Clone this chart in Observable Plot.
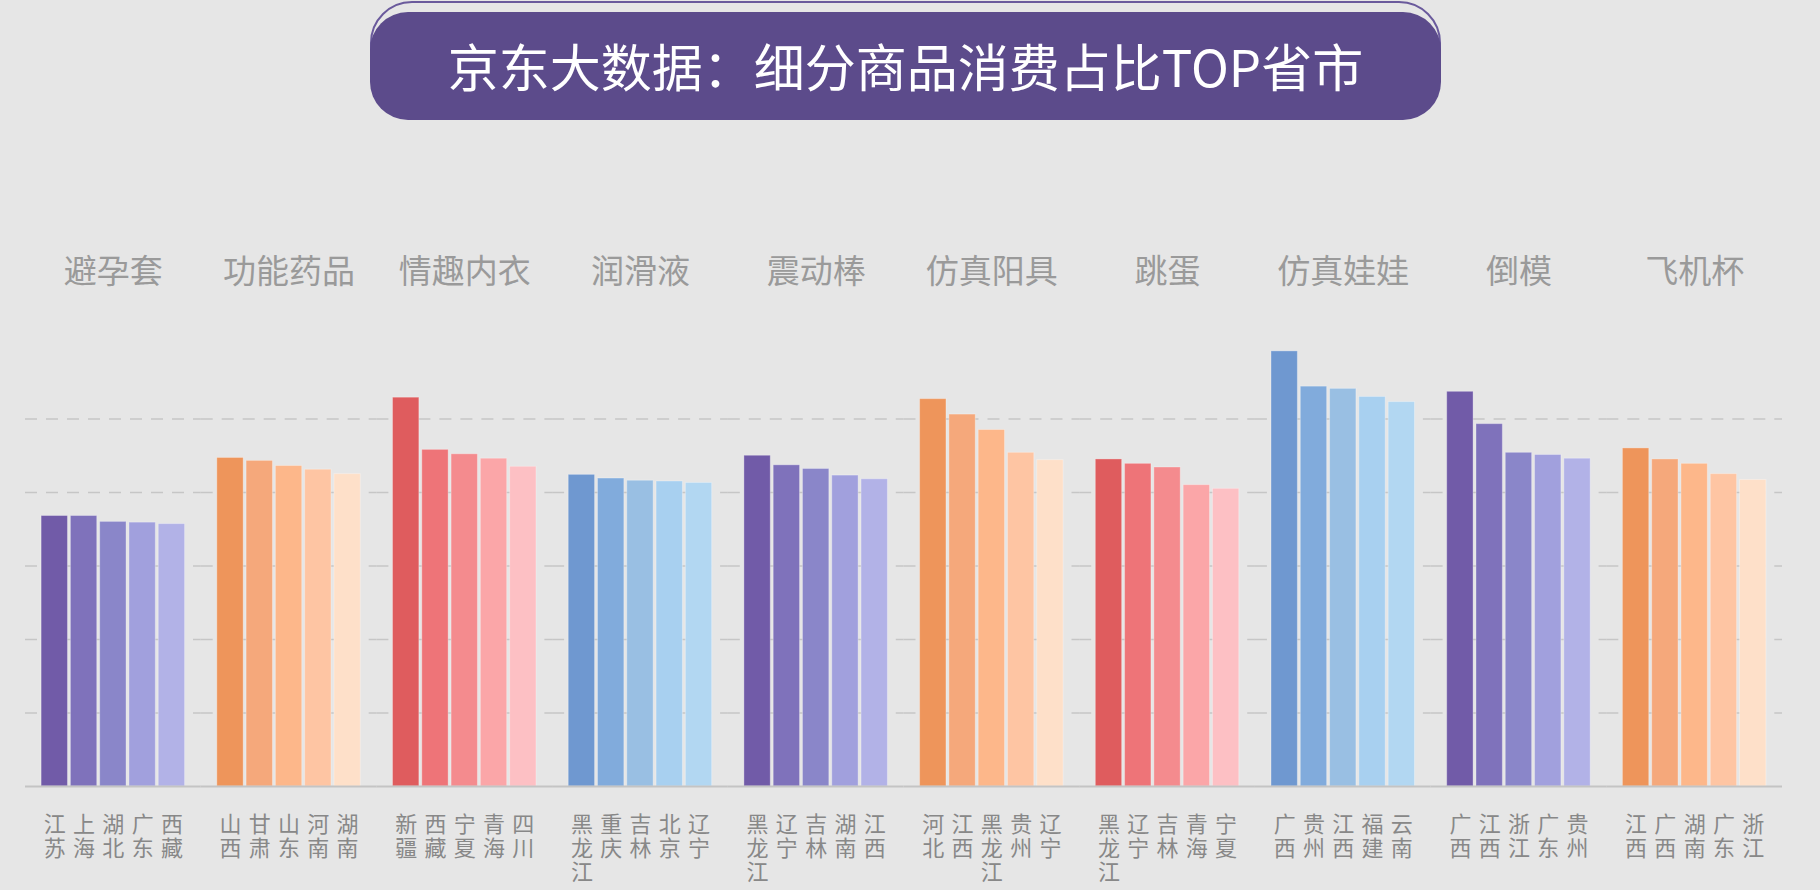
<!DOCTYPE html>
<html>
<head>
<meta charset="utf-8">
<script src="https://cdn.jsdelivr.net/npm/d3@7"></script>
<script src="https://cdn.jsdelivr.net/npm/@observablehq/plot@0.6"></script>
<style>
  html, body { margin: 0; padding: 0; background: #e6e6e6; }
  body { width: 1820px; height: 890px; position: relative; overflow: hidden; font-family: "Noto Sans CJK SC", "Noto Sans", sans-serif; }
  #outline { position: absolute; left: 370px; top: 1px; width: 1067px; height: 100px; border: 2px solid #6a5a9c; border-radius: 42px; }
  #title { position: absolute; left: 370px; top: 12px; width: 1071px; height: 108px; background: #5c4b8b; border-radius: 38px; color: #fff; font-size: 51px; text-align: center; line-height: 106px; font-weight: 400; }
  #chart { position: absolute; left: 0; top: 200px; }
</style>
</head>
<body>
<div id="outline"></div>
<div id="title">京东大数据：细分商品消费占比TOP省市</div>
<div id="chart"></div>
<script>
const categories = ["避孕套", "功能药品", "情趣内衣", "润滑液", "震动棒", "仿真阳具", "跳蛋", "仿真娃娃", "倒模", "飞机杯"];
const provinces = [
  ["江苏", "上海", "湖北", "广东", "西藏"],
  ["山西", "甘肃", "山东", "河南", "湖南"],
  ["新疆", "西藏", "宁夏", "青海", "四川"],
  ["黑龙江", "重庆", "吉林", "北京", "辽宁"],
  ["黑龙江", "辽宁", "吉林", "湖南", "江西"],
  ["河北", "江西", "黑龙江", "贵州", "辽宁"],
  ["黑龙江", "辽宁", "吉林", "青海", "宁夏"],
  ["广西", "贵州", "江西", "福建", "云南"],
  ["广西", "江西", "浙江", "广东", "贵州"],
  ["江西", "广西", "湖南", "广东", "浙江"]
];
const values = [
  [3.68, 3.68, 3.60, 3.59, 3.57],
  [4.47, 4.43, 4.36, 4.31, 4.25],
  [5.29, 4.58, 4.52, 4.46, 4.35],
  [4.24, 4.19, 4.16, 4.15, 4.13],
  [4.50, 4.37, 4.32, 4.23, 4.18],
  [5.27, 5.06, 4.85, 4.54, 4.44],
  [4.45, 4.39, 4.34, 4.10, 4.05],
  [5.92, 5.44, 5.41, 5.30, 5.23],
  [5.37, 4.93, 4.54, 4.51, 4.46],
  [4.60, 4.45, 4.39, 4.25, 4.17]
];
const gridTicks = [1, 2, 3, 4, 5];

const palettes = {
  purple: ["#715ba8", "#7f72bb", "#8a86c9", "#a1a0dd", "#b2b2e7"],
  orange: ["#ee955b", "#f5a87b", "#fdb78a", "#fec5a3", "#fee0c9"],
  red:    ["#df5c5e", "#ee7478", "#f48b8e", "#fba6a8", "#fdc0c4"],
  blue:   ["#6f98d0", "#81abdc", "#99bfe3", "#a8d0f0", "#b2d7f2"]
};
const paletteCycle = ["purple", "orange", "red", "blue"];

const rows = [];
categories.forEach((cat, i) => {
  provinces[i].forEach((prov, j) => {
    rows.push({cat, rank: j, prov, value: values[i][j], color: palettes[paletteCycle[i % 4]][j]});
  });
});

const fontFamily = '"Noto Sans CJK SC", "Noto Sans", sans-serif';

const chart = Plot.plot({
  width: 1820,
  height: 690,
  marginLeft: 25,
  marginRight: 38,
  marginTop: 145,
  marginBottom: 104,
  style: {background: "transparent", fontFamily},
  fx: {domain: categories, padding: 0, round: false},
  x: {domain: [0, 1, 2, 3, 4], paddingInner: 0.1, paddingOuter: 0.55, round: false, axis: null},
  y: {domain: [0, 6], axis: null},
  marks: [
    Plot.gridY(gridTicks, {stroke: "#c6c6c6", strokeOpacity: 1, strokeWidth: 1.5, strokeDasharray: "12,9"}),
    Plot.barY(rows, {fx: "cat", x: "rank", y: "value", fill: "color", stroke: "#ffffff", strokeOpacity: 0.3, strokeWidth: 1}),
    Plot.ruleY([0], {stroke: "#c4c4c4", strokeWidth: 2}),
    Plot.axisFx({anchor: "top", tickSize: 0, tickPadding: 63, fontSize: 33, fill: "#9a9a9a", label: null}),
    Plot.text(rows, {fx: "cat", x: "rank", frameAnchor: "bottom", text: d => d.prov.split("").join("\n"), lineAnchor: "top", lineHeight: 1.1, dy: 28, fontSize: 22, fill: "#888888"})
  ]
});
document.getElementById("chart").appendChild(chart);
</script>
</body>
</html>
